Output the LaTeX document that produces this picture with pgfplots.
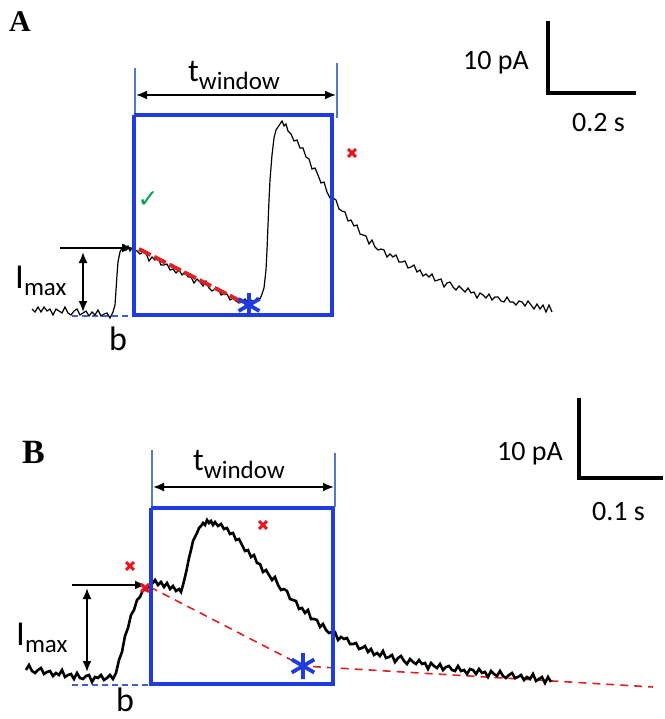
\documentclass[border=0pt]{standalone}
\usepackage{fontspec}
\setmainfont{Carlito}
\newfontfamily\tnr{Liberation Serif}
\newfontfamily\dejavu{DejaVu Sans}
\usepackage{pgfplots}
\pgfplotsset{compat=1.18}
\usetikzlibrary{arrows.meta}
\definecolor{boxblue}{RGB}{30,60,225}
\definecolor{thinblue}{RGB}{85,120,200}
\definecolor{xred}{RGB}{235,20,30}
\definecolor{dred}{RGB}{220,35,35}
\definecolor{okgreen}{RGB}{0,165,80}
\tikzset{arr/.style={line width=1.8pt,{Latex[length=11pt,width=9pt]}-{Latex[length=11pt,width=9pt]}},
         rarr/.style={line width=1.8pt,-{Latex[length=11pt,width=9pt]}}}
\begin{document}
\begin{tikzpicture}
\begin{axis}[scale only axis, width=663pt, height=719pt,
  xmin=0, xmax=663, ymin=0, ymax=719, y dir=reverse,
  hide axis, clip=false]
\addplot[draw=none] coordinates {(0,0) (663,719)};
% ===================== Panel A =====================
% baseline dashed
\addplot[thinblue!60!boxblue, line width=1.5pt, dash pattern=on 6pt off 4pt] coordinates {(72,316) (133,316)};
% trace A
\addplot[black, line width=1.2pt] coordinates {
(32,309)(35,312)(38,307)(41,312)(44,307)(47,311)(50,309)(53,315)(56,309)(59,311)(62,313)(65,307)(68,313)(71,315)(74,311)(77,309)(80,315)(83,313)(86,311)(89,316)(92,312)(95,315)(98,310)(101,316)(104,314)(107,313)(110,318)(113,312)
(115,305)(116,290)(117,275)(118,262)(120,252)(122,248)(124,245)(126,250)(128,246)(130,251)(132,248)(134,250)
(137,251)(140,254)(143,252)(146,253)(149,261)(152,257)(155,260)(158,258)(161,265)(164,265)(167,264)(170,270)(173,269)(176,273)(179,270)(182,275)(185,272)(188,277)(191,277)(194,283)(197,279)(200,282)(203,286)(206,281)(209,288)(212,291)(215,289)(218,288)(221,295)(224,294)(227,294)(230,300)(233,298)(236,301)(239,303)
(242,302)(245,299)(248,303)(251,300)(254,302)(257,298)(260,299)(262,294)
(264,288)(266,270)(267,250)(268,225)(269,200)(270,180)(272,155)(274,138)(276,130)(278,127)(280,124)(282,121)(284,126)(286,124)(288,131)
(291,134)(294,141)(297,140)(300,148)(303,148)(306,157)(309,159)(312,169)(315,168)(318,175)(321,183)(324,182)(327,192)(330,198)(333,198)(336,200)(339,209)(342,211)(345,212)(348,221)(351,220)(354,226)(357,225)(360,234)(363,235)(366,236)(369,244)(372,240)(375,247)(378,250)(381,249)(384,250)(387,257)(390,254)(393,257)(396,255)(399,262)(402,262)(405,261)(408,268)
(411,267)(414,265)(417,272)(420,270)(423,276)(426,274)(429,277)(432,274)(435,281)(438,280)(441,279)(444,287)(447,283)(450,282)(453,287)(456,290)(459,286)(462,289)(465,292)(468,288)(471,293)(474,292)(477,298)(480,293)(483,295)(486,298)(489,294)(492,300)(495,297)(498,297)(501,301)(504,302)(507,297)(510,302)(513,302)(516,305)(519,301)(522,302)(525,306)(528,301)
(531,305)(534,309)(537,304)(540,309)(543,305)(546,312)(549,305)(552,312)
};
% red fit line
\addplot[dred, line width=4pt, dash pattern=on 13pt off 4pt] coordinates {(139,249) (246,304)};
% window box
\addplot[boxblue, line width=3.5pt] coordinates {(134,115) (332,115) (332,315) (134,315) (134,115)};
% window limits
\addplot[thinblue, line width=1.2pt] coordinates {(135,68) (135,113)};
\addplot[thinblue, line width=1.2pt] coordinates {(337,63) (337,118)};
\addplot[arr] coordinates {(136,95) (336,95)};
% Imax arrows
\addplot[rarr] coordinates {(60,248) (133,248)};
\addplot[arr] coordinates {(83,252) (83,312)};
% asterisk
\addplot[boxblue, line width=3.8pt, mark=asterisk, mark size=12pt, only marks] coordinates {(249,305)};
% red x
\addplot[xred, line width=3pt, mark=x, mark size=5.5pt, only marks] coordinates {(352,153)};
% scale bar A
\addplot[black, line width=3.5pt] coordinates {(548,21) (548,93) (636,93)};
\node[anchor=base west, inner sep=0] at (axis cs:9,32) {\tnr\bfseries\fontsize{30}{32}\selectfont A};
\node[anchor=base west, inner sep=0] at (axis cs:463,70) {\fontsize{28}{30}\selectfont 10 pA};
\node[anchor=base west, inner sep=0] at (axis cs:572,132) {\fontsize{28}{30}\selectfont 0.2 s};
\node[anchor=base west, inner sep=0] at (axis cs:188,82) {\fontsize{32}{34}\selectfont t\raisebox{-8pt}{\fontsize{25}{26}\selectfont window}};
\node[anchor=base west, inner sep=0] at (axis cs:15,288) {\fontsize{35}{36}\selectfont I\raisebox{-7pt}{\fontsize{25}{26}\selectfont max}};
\node[anchor=base west, inner sep=0] at (axis cs:109,350) {\fontsize{34}{36}\selectfont b};
\node[inner sep=0, text=okgreen] at (axis cs:148,200) {\dejavu\fontsize{25}{26}\selectfont ✓};
% ===================== Panel B =====================
\addplot[thinblue!60!boxblue, line width=1.5pt, dash pattern=on 6pt off 4pt] coordinates {(72,685) (150,685)};
\addplot[dred, line width=1.6pt, dash pattern=on 8pt off 6pt] coordinates {(150,587) (303,666) (653,687)};
\addplot[black, line width=2.6pt] coordinates {
(26,670)(29,665)(32,671)(35,673)(38,670)(41,668)(44,674)(47,672)(50,671)(53,676)(56,673)(59,675)(62,670)(65,677)(68,675)(71,674)(74,679)(77,673)(80,678)(83,679)(86,676)(89,675)(92,682)(95,677)(98,678)(101,675)(104,680)(107,678)(110,675)(113,679)
(116,673)(119,660)(122,652)(125,636)(128,628)(131,615)(134,610)(137,600)(140,597)(143,590)(146,590)(149,585)
(152,584)(155,580)(158,585)(161,582)(164,587)(167,583)(170,589)(173,586)(176,591)(179,589)(181,592)
(183,585)(185,577)(187,568)(189,558)(191,550)(193,541)(195,537)(197,533)(199,528)(201,526)(203,523)(205,525)(207,520)(209,523)(211,521)(213,525)(215,522)(218,526)(221,524)(224,529)(227,528)(230,534)(233,533)(236,540)(239,539)
(242,545)(245,551)(248,550)(251,557)(254,555)(257,563)(260,564)(263,572)(266,570)(269,575)(272,580)(275,577)(278,585)(281,590)(284,589)(287,591)(290,599)(293,600)(296,601)(299,609)(302,608)(305,613)(308,610)(311,619)(314,619)(317,620)(320,627)(323,624)(326,630)(329,633)(332,632)(335,632)(338,640)(341,637)(344,639)(347,638)(350,644)(353,644)(356,643)(359,649)
(362,648)(365,646)(368,652)(371,649)(374,655)(377,653)(380,656)(383,651)(386,658)(389,657)(392,655)(395,662)(398,658)(401,656)(404,661)(407,664)(410,659)(413,662)(416,664)(419,660)(422,664)(425,663)(428,669)(431,663)(434,666)(437,668)(440,664)(443,670)(446,667)(449,666)(452,670)(455,671)(458,666)(461,671)(464,670)(467,674)(470,669)(473,670)(476,674)(479,669)
(482,673)(485,672)(488,677)(491,671)(494,674)(497,676)(500,671)(503,676)(506,678)(509,675)(512,673)(515,678)(518,677)(521,675)(524,680)(527,677)(530,679)(533,674)(536,681)(539,679)(542,677)(545,683)(548,677)(551,682)
};
\addplot[boxblue, line width=3.5pt] coordinates {(151,508) (333,508) (333,684) (151,684) (151,508)};
\addplot[thinblue, line width=1.2pt] coordinates {(152,450) (152,506)};
\addplot[thinblue, line width=1.2pt] coordinates {(335,453) (335,507)};
\addplot[arr] coordinates {(153,487) (334,487)};
\addplot[rarr] coordinates {(72,585) (146,585)};
\addplot[arr] coordinates {(87,588) (87,672)};
\addplot[boxblue, line width=3.8pt, mark=asterisk, mark size=13pt, only marks] coordinates {(303,666)};
\addplot[xred, line width=3pt, mark=x, mark size=5.5pt, only marks] coordinates {(263,525) (130,566) (145,588)};
\addplot[black, line width=3.5pt] coordinates {(579,398) (579,478) (663,478)};
\node[anchor=base west, inner sep=0] at (axis cs:22,463) {\tnr\bfseries\fontsize{34}{36}\selectfont B};
\node[anchor=base west, inner sep=0] at (axis cs:497,460) {\fontsize{28}{30}\selectfont 10 pA};
\node[anchor=base west, inner sep=0] at (axis cs:592,520) {\fontsize{28}{30}\selectfont 0.1 s};
\node[anchor=base west, inner sep=0] at (axis cs:193,470) {\fontsize{32}{34}\selectfont t\raisebox{-8pt}{\fontsize{25}{26}\selectfont window}};
\node[anchor=base west, inner sep=0] at (axis cs:16,645) {\fontsize{35}{36}\selectfont I\raisebox{-7pt}{\fontsize{25}{26}\selectfont max}};
\node[anchor=base west, inner sep=0] at (axis cs:116,711) {\fontsize{34}{36}\selectfont b};
\end{axis}
\end{tikzpicture}
\end{document}
